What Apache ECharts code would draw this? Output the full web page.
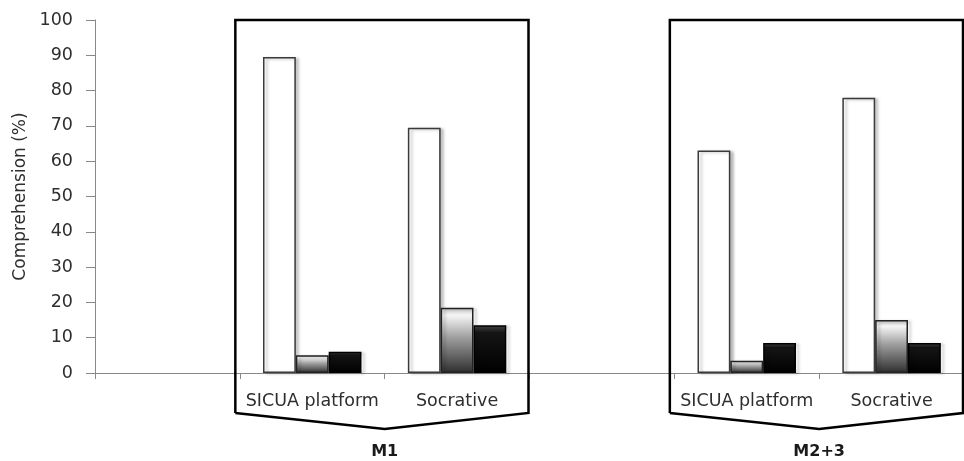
<!DOCTYPE html>
<html>
<head>
<meta charset="utf-8">
<script src="https://cdn.jsdelivr.net/npm/echarts@6/dist/echarts.min.js"></script>
<style>html,body{margin:0;padding:0;background:#fff}#c{width:964px;height:461px}</style>
</head>
<body>
<div id="c"></div>
<script>
// Data
var categories = ['', 'SICUA platform', 'Socrative', '', 'SICUA platform', 'Socrative'];
var groupLabels = ['M1', 'M2+3'];
var seriesA = [null, 89.5, 69.5, null, 63, 78];    // white bars
var seriesB = [null, 5, 18.5, null, 3.5, 15];      // gray bars
var seriesC = [null, 6, 13.5, null, 8.5, 8.5];     // black bars
var yTicks = [0, 10, 20, 30, 40, 50, 60, 70, 80, 90, 100];

var catKeys = categories.map(function (c, i) { return i + '|' + c; });

var chart = echarts.init(document.getElementById('c'));
var font = 'DejaVu Sans';

var shadow = { shadowBlur: 3, shadowOffsetX: 3, shadowOffsetY: 1, shadowColor: 'rgba(0,0,0,0.25)' };

function barSeries(name, data, style) {
  return {
    name: name, type: 'bar', data: data,
    barGap: '0%', barCategoryGap: '32%',
    itemStyle: Object.assign({}, shadow, style),
    silent: true
  };
}

var option = {
  animation: false,
  grid: { left: 95, right: -5, top: 20, bottom: 88 },
  xAxis: {
    type: 'category',
    data: catKeys,
    axisLine: { lineStyle: { color: '#888', width: 1 } },
    axisTick: { show: true, length: 6, lineStyle: { color: '#888' } },
    axisLabel: {
      interval: 0, margin: 19, fontSize: 17.5, fontFamily: font, color: '#2e2e2e',
      formatter: function (v) { return v.split('|')[1]; }
    },
    splitLine: { show: false }
  },
  yAxis: {
    type: 'value', min: yTicks[0], max: yTicks[yTicks.length - 1], interval: yTicks[1] - yTicks[0],
    name: 'Comprehension (%)', nameLocation: 'middle', nameGap: 64,
    nameTextStyle: { fontSize: 17, fontFamily: font, color: '#2e2e2e' },
    axisLine: { show: true, lineStyle: { color: '#888', width: 1 } },
    axisTick: { show: true, length: 9, lineStyle: { color: '#888' } },
    axisLabel: { margin: 22, fontSize: 17.5, fontFamily: font, color: '#2e2e2e' },
    splitLine: { show: false }
  },
  series: [
    barSeries('A', seriesA, { color: '#ffffff', borderColor: '#3a3a3a', borderWidth: 1.5 }),
    barSeries('B', seriesB, {
      color: new echarts.graphic.LinearGradient(0, 0, 0, 1, [
        { offset: 0, color: '#d0d0d0' },
        { offset: 0.12, color: '#f5f5f5' },
        { offset: 0.45, color: '#a0a0a0' },
        { offset: 1, color: '#2e2e2e' }
      ]),
      borderColor: '#222', borderWidth: 1.5
    }),
    barSeries('C', seriesC, {
      color: new echarts.graphic.LinearGradient(0, 0, 0, 1, [
        { offset: 0, color: '#4a4a4a' },
        { offset: 0.15, color: '#151515' },
        { offset: 1, color: '#000000' }
      ]),
      borderColor: '#000', borderWidth: 1.5
    })
  ]
};
chart.setOption(option);

function drawBoxes() {
  var c0 = chart.convertToPixel({ xAxisIndex: 0 }, catKeys[0]);
  var c1 = chart.convertToPixel({ xAxisIndex: 0 }, catKeys[1]);
  var band = c1 - c0;
  function boundary(i) { return c0 - band / 2 + i * band; }
  var yTop = chart.convertToPixel({ yAxisIndex: 0 }, 100);
  var yAxis0 = chart.convertToPixel({ yAxisIndex: 0 }, 0);
  var groups = [
    { start: 1, end: 3, label: groupLabels[0] },
    { start: 4, end: 6, label: groupLabels[1] }
  ];
  var els = [];
  groups.forEach(function (g) {
    var l = boundary(g.start) - 4.5;
    var r = boundary(g.end) - 1;
    var m = boundary(g.start + 1);
    var ySide = yAxis0 + 40;
    var yTip = yAxis0 + 56;
    els.push({
      type: 'polyline', silent: true,
      shape: { points: [[l, ySide], [l, yTop], [r, yTop], [r, ySide], [m, yTip], [l, ySide]] },
      style: { stroke: '#000', lineWidth: 2.5, fill: null, lineJoin: 'miter' },
      z: 10
    });
    els.push({
      type: 'text', silent: true, x: m, y: yAxis0 + 79,
      style: { text: g.label, font: 'bold 16px "DejaVu Sans"', fill: '#1a1a1a', textAlign: 'center', textVerticalAlign: 'middle' },
      z: 10
    });
  });
  chart.setOption({ graphic: { elements: els } });
}
drawBoxes();
</script>
</body>
</html>
